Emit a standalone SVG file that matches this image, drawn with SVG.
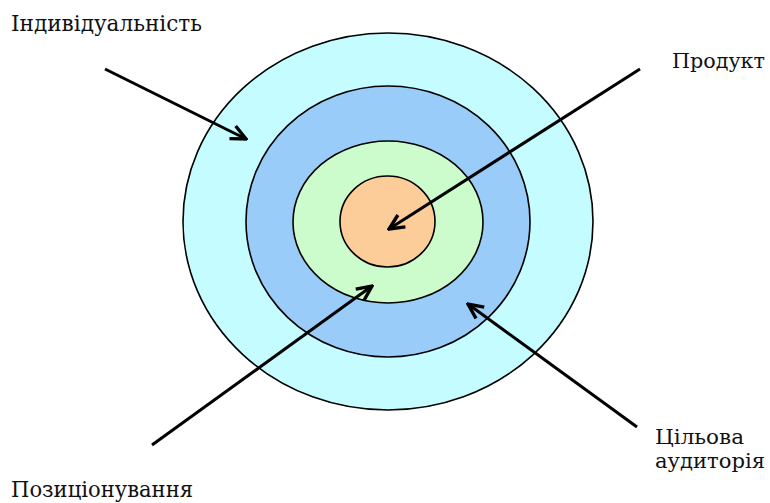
<svg xmlns="http://www.w3.org/2000/svg" width="770" height="503" viewBox="0 0 770 503">
<style>
.ring{stroke:#000;stroke-width:1.6}
.lbl{font-family:'DejaVu Serif','Liberation Serif',serif;font-size:23px;fill:#111}
.sm{font-size:21px}
.arr{stroke:#000;stroke-width:3;fill:none;marker-end:url(#head)}
</style>
<defs>
<marker id="head" markerUnits="userSpaceOnUse" viewBox="-17 -9 19 18" refX="0" refY="0" markerWidth="19" markerHeight="18" orient="auto">
<path d="M-15,-7 L0,0 L-15,7" fill="none" stroke="#000" stroke-width="3.4" stroke-linejoin="miter"/>
</marker>
</defs>
<rect width="770" height="503" fill="#fff"/>
<g id="target">
<g id="ring-outer"><ellipse class="ring" cx="388" cy="221.5" rx="205" ry="188.5" fill="#c4fcff"/></g>
<g id="ring-blue"><ellipse class="ring" cx="388" cy="221.5" rx="142" ry="135.5" fill="#99ccf8"/></g>
<g id="ring-green"><ellipse class="ring" cx="388" cy="222" rx="95" ry="81" fill="#ccfccc"/></g>
<g id="ring-center"><ellipse class="ring" cx="387.5" cy="221.5" rx="47.5" ry="45.5" fill="#fccc99"/></g>
</g>
<g id="connectors">
<line class="arr" x1="105" y1="69" x2="246" y2="139"/>
<line class="arr" x1="640" y1="69" x2="389" y2="229"/>
<line class="arr" x1="152" y1="445" x2="372" y2="286"/>
<line class="arr" x1="637" y1="427" x2="468" y2="304"/>
</g>
<g id="label-individuality"><text class="lbl" x="11" y="31" textLength="191" lengthAdjust="spacingAndGlyphs">Індивідуальність</text></g>
<g id="label-product"><text class="lbl sm" x="672" y="68" textLength="93" lengthAdjust="spacingAndGlyphs">Продукт</text></g>
<g id="label-positioning"><text class="lbl" x="11" y="497" textLength="182" lengthAdjust="spacingAndGlyphs">Позиціонування</text></g>
<g id="label-audience"><text class="lbl sm" x="655" y="444" textLength="89" lengthAdjust="spacingAndGlyphs">Цільова</text><text class="lbl sm" x="655" y="468" textLength="110" lengthAdjust="spacingAndGlyphs">аудиторія</text></g>
</svg>
